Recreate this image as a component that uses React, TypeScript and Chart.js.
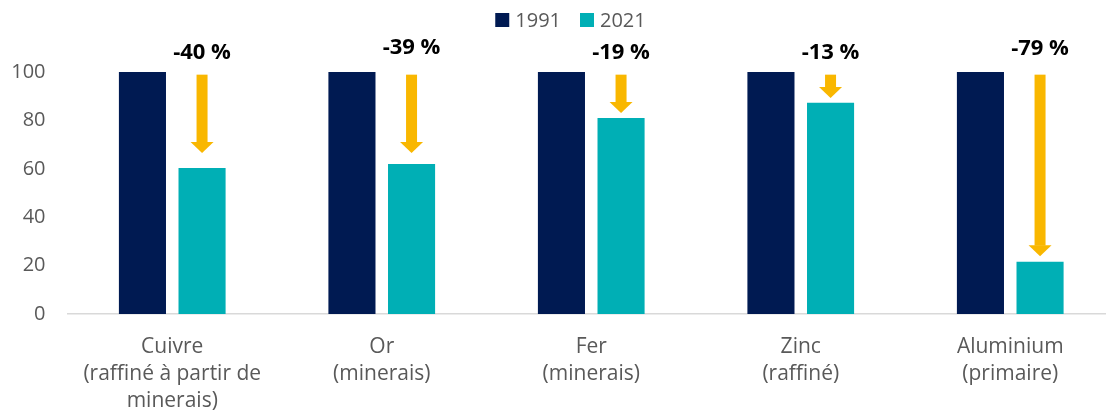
import React, { useEffect, useRef } from "react";
import { Chart, registerables } from "chart.js";

Chart.register(...registerables);

const categories: string[][] = [
  ["Cuivre", "(raffiné à partir de", "minerais)"],
  ["Or", "(minerais)"],
  ["Fer", "(minerais)"],
  ["Zinc", "(raffiné)"],
  ["Aluminium", "(primaire)"],
];
const seriesNames = ["1991", "2021"];
const values1991 = [100, 100, 100, 100, 100];
const values2021 = [60.3, 62, 81, 87.3, 21.6];
const changeLabels = ["-40 %", "-39 %", "-19 %", "-13 %", "-79 %"];
const arrowStart = [98.9, 98.9, 98.9, 98.9, 98.9];
const arrowTip = [66.5, 66.5, 83.1, 89.3, 23.9];
const changeLabelValue = [108, 110, 108, 108, 109.5];
const yMin = 0;
const yMax = 100;
const yStep = 20;

const NAVY = "#001A52";
const TEAL = "#00AFB5";
const ORANGE = "#F9B700";
const GRAY = "#595959";
const FONT = "'Open Sans', 'Noto Sans', sans-serif";

const annotationPlugin = {
  id: "changeArrows",
  afterDatasetsDraw(chart: any) {
    const ctx = chart.ctx;
    const y = chart.scales.y;
    const meta = chart.getDatasetMeta(1);
    ctx.save();
    for (let i = 0; i < changeLabels.length; i++) {
      const bar = meta.data[i];
      if (!bar) continue;
      const x = bar.x;
      const yTop = y.getPixelForValue(arrowStart[i]);
      const yTip = y.getPixelForValue(arrowTip[i]);
      const headH = 11;
      const headW = 23;
      const shaftW = 11;
      ctx.fillStyle = ORANGE;
      ctx.fillRect(x - shaftW / 2, yTop, shaftW, yTip - headH - yTop + 0.5);
      ctx.beginPath();
      ctx.moveTo(x - headW / 2, yTip - headH);
      ctx.lineTo(x + headW / 2, yTip - headH);
      ctx.lineTo(x, yTip);
      ctx.closePath();
      ctx.fill();
      ctx.fillStyle = "#000000";
      ctx.font = `bold 22px ${FONT}`;
      ctx.textAlign = "center";
      ctx.textBaseline = "middle";
      ctx.fillText(changeLabels[i], x, y.getPixelForValue(changeLabelValue[i]));
    }
    ctx.restore();
  },
};

const legendPlugin = {
  id: "customLegend",
  afterDraw(chart: any) {
    const ctx = chart.ctx;
    ctx.save();
    ctx.font = `20px ${FONT}`;
    ctx.textBaseline = "middle";
    ctx.textAlign = "left";
    const box = 14;
    const gap = 6;
    const itemGap = 19;
    const items = chart.data.datasets.map((d: any) => ({
      label: d.label,
      color: d.backgroundColor,
      w: box + gap + ctx.measureText(d.label).width,
    }));
    const total = items.reduce((s: number, it: any) => s + it.w, 0) + itemGap * (items.length - 1);
    let x = 570.5 - total / 2;
    const cy = 20;
    for (const it of items) {
      ctx.fillStyle = it.color;
      ctx.fillRect(x, cy - box / 2, box, box);
      ctx.fillStyle = GRAY;
      ctx.fillText(it.label, x + box + gap, cy + 1);
      x += it.w + itemGap;
    }
    ctx.restore();
  },
};

export default function App() {
  const ref = useRef<HTMLCanvasElement>(null);
  useEffect(() => {
    if (!ref.current) return;
    const chart = new Chart(ref.current, {
      type: "bar",
      data: {
        labels: categories,
        datasets: [
          {
            label: seriesNames[0],
            data: values1991,
            backgroundColor: NAVY,
            categoryPercentage: 0.569,
            barPercentage: 0.79,
          },
          {
            label: seriesNames[1],
            data: values2021,
            backgroundColor: TEAL,
            categoryPercentage: 0.569,
            barPercentage: 0.79,
          },
        ],
      },
      options: {
        responsive: false,
        animation: false,
        devicePixelRatio: 1,
        layout: { padding: { top: 72, right: 0, left: 0, bottom: 0 } },
        plugins: {
          legend: { display: false },
          tooltip: { enabled: false },
        },
        scales: {
          x: {
            grid: { display: false, drawTicks: false },
            border: { display: true, color: "#D9D9D9", width: 1.5 },
            ticks: {
              color: GRAY,
              font: { family: FONT, size: 21, lineHeight: 1.286 },
              padding: 20,
              maxRotation: 0,
              autoSkip: false,
            },
            afterFit(scale: any) {
              scale.height = 100;
            },
          },
          y: {
            min: yMin,
            max: yMax,
            grid: { display: false, drawTicks: false },
            border: { display: false },
            ticks: {
              stepSize: yStep,
              color: GRAY,
              font: { family: FONT, size: 20 },
              padding: 22,
            },
            afterFit(scale: any) {
              scale.width = 67.5;
            },
          },
        },
      },
      plugins: [annotationPlugin, legendPlugin],
    });
    return () => chart.destroy();
  }, []);
  return (
    <div style={{ position: "fixed", top: 0, left: 0, width: 1106, height: 414, overflow: "hidden", background: "#fff" }}>
      <canvas ref={ref} width={1115} height={414} style={{ width: 1115, height: 414, display: "block" }} />
    </div>
  );
}
